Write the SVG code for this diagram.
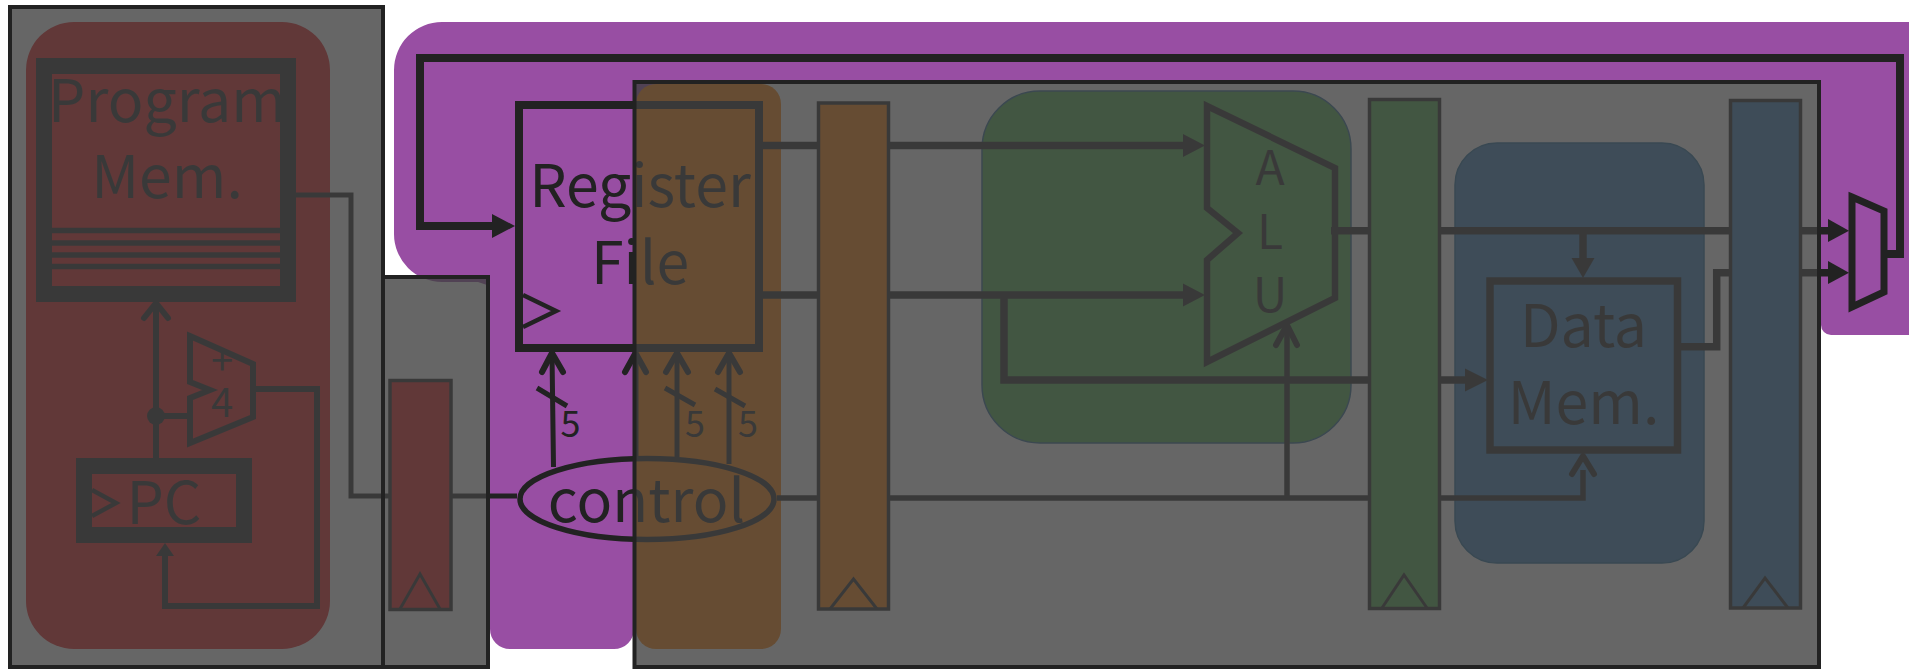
<svg xmlns="http://www.w3.org/2000/svg" width="1909" height="669" viewBox="0 0 1909 669">
<style>
.w{fill:none;stroke:#222;stroke-linejoin:miter}
.chev{fill:none;stroke:#222;stroke-width:6;stroke-linecap:round;stroke-linejoin:round}
.head{fill:#222;stroke:none}
.b{fill:none;stroke:#222}
.reg{stroke:#222;stroke-width:3.5}
.tri{fill:none;stroke:#222;stroke-width:3}
.t{font-family:"Noto Sans CJK SC","Noto Sans",sans-serif;font-size:59px;fill:#222;text-anchor:middle}
.s{font-size:40px}
.ov{fill:#404040;fill-opacity:.8;stroke:none}
.ovb{fill:none;stroke:#222;stroke-width:4}
</style>
<g id="stage-backgrounds">
<rect x="26" y="22" width="304" height="627" rx="48" fill="#e41a1c"/>
<path d="M442,22H1909V335H1831A10,10 0 0 1 1821,325V84H660V110H634V629A20,20 0 0 1 614,649H510A20,20 0 0 1 490,629V286L478,282H442A48,48 0 0 1 394,234V70A48,48 0 0 1 442,22Z" fill="#984ea3"/>
<rect x="636" y="84" width="145" height="565" rx="20" fill="#ff7f00"/>
<rect x="982" y="91" width="369" height="352" rx="58" fill="#4daf4a" stroke="#2a6a90" stroke-width="1.5"/>
<rect x="1455" y="143" width="249" height="420" rx="42" fill="#377eb8" stroke="#1f6a9a" stroke-width="1.5"/>
</g>
<g id="connectors">
<path class="w" stroke-width="8" d="M1885,254H1900V58H420V226H496"/>
<polygon class="head" points="515,226 492,214 492,238"/>
<path class="w" stroke-width="5" d="M296,195H351V496H517"/>
<path class="w" stroke-width="6" d="M156,458V304M156,416H190"/>
<circle cx="156" cy="416" r="9" fill="#222"/>
<path class="chev" d="M144,318L156,303L168,318"/>
<path class="w" stroke-width="6" d="M252,389H317V606H165V553"/>
<polygon class="head" points="165,543 156,556 174,556"/>
<path class="w" stroke-width="5" d="M553.500,467L552,354M636,460V354M677,457V354M729,464V354"/>
<path class="chev" d="M542,372L552,353L563,372M625,372L635.500,353L646,372M666,372L677,353L688,372M718,372L729,353L740,372"/>
<path class="w" stroke-width="5" d="M537,388L567,406M665,388L695,405M715,389L745,406"/>
<path class="w" stroke-width="5.500" d="M777,498H1583V470M1287,498V326"/>
<path class="chev" d="M1276,345L1287,325L1297,345M1572,474L1583,456L1594,474"/>
<path class="w" stroke-width="7.500" d="M759,145.500H1185M759,295H1185M1004,295V380H1468M1331,230.700H1830M1583,230.700V260M1678,346.700H1716.700V272.700H1830"/>
<polygon class="head" points="1205,145.500 1183,134 1183,157"/>
<polygon class="head" points="1205,295 1183,283.500 1183,306.500"/>
<polygon class="head" points="1488,380 1465,368.500 1465,391.500"/>
<polygon class="head" points="1583,278 1571.500,258 1594.500,258"/>
<polygon class="head" points="1849,230.700 1828,219 1828,242"/>
<polygon class="head" points="1849,272.700 1828,261 1828,284"/>
</g>
<g id="program-mem">
<rect class="b" x="44" y="66" width="244" height="228" stroke-width="16"/>
<path class="w" stroke-width="5.500" d="M52,230.500H280M52,243H280M52,255H280M52,266.500H280"/>
<text class="t" x="167" y="122">Program</text>
<text class="t" x="167" y="198">Mem.</text>
</g>
<g id="pc">
<rect class="b" x="84" y="466" width="160" height="69" stroke-width="16"/>
<path class="w" stroke-width="4.500" d="M92,490L116,503L92,516"/>
<text class="t" x="164" y="524">PC</text>
</g>
<g id="adder">
<polygon class="b" stroke-width="6" points="190,336 253,364 253,417 190,443 190,398 210,390 190,382"/>
<text class="t s" x="222" y="375">+</text>
<text class="t s" x="222" y="417">4</text>
</g>
<g id="reg-if"><rect class="reg" x="390" y="380.500" width="61" height="229" fill="#e41a1c"/><path class="tri" d="M400,609L420,574L440,609"/></g>
<g id="register-file">
<rect class="b" x="519" y="105" width="240" height="243" stroke-width="8"/>
<path class="w" stroke-width="4.500" d="M523,295L556,311L523,327"/>
<text class="t" x="640" y="207">Register</text>
<text class="t" x="640" y="284">File</text>
</g>
<g id="control">
<ellipse class="b" cx="647" cy="499" rx="127" ry="40.500" stroke-width="5.500"/>
<text class="t" x="646.500" y="522">control</text>
<text class="t" style="font-size:36px" x="570.500" y="437">5</text>
<text class="t" style="font-size:36px" x="695" y="437">5</text>
<text class="t" style="font-size:36px" x="748" y="437">5</text>
</g>
<g id="reg-id"><rect class="reg" x="818.500" y="103" width="70" height="506" fill="#ff7f00"/><path class="tri" d="M830,609L853.500,579L877,609"/></g>
<g id="alu">
<polygon class="b" stroke-width="6.500" points="1207,106 1335,168 1335,298 1207,362 1207,260 1238,233 1207,208"/>
<text class="t" style="font-size:48px" x="1270" y="185">A</text>
<text class="t" style="font-size:48px" x="1270" y="249">L</text>
<text class="t" style="font-size:48px" x="1270" y="312">U</text>
</g>
<g id="reg-ex"><rect class="reg" x="1369.500" y="99.500" width="70" height="509" fill="#4daf4a"/><path class="tri" d="M1382,608L1404,575L1427,608"/></g>
<g id="data-mem">
<rect class="b" x="1490" y="281" width="187.500" height="169" stroke-width="7.500"/>
<text class="t" x="1583.500" y="347">Data</text>
<text class="t" x="1583.500" y="424">Mem.</text>
</g>
<g id="reg-mem"><rect class="reg" x="1730.500" y="100.500" width="70" height="507.500" fill="#377eb8"/><path class="tri" d="M1743,608L1765,578L1788,608"/></g>
<g id="overlays">
<rect class="ov" x="10" y="7" width="373" height="660"/>
<rect class="ov" x="383" y="277" width="105" height="390"/>
<rect class="ov" x="634.500" y="82" width="1184.500" height="585"/>
<rect class="ovb" x="10" y="7" width="373" height="660"/>
<rect class="ovb" x="383" y="277" width="105" height="390"/>
<rect class="ovb" x="634.500" y="82" width="1184.500" height="585"/>
</g>
<g id="write-mux">
<polygon class="b" stroke-width="7" points="1852,197 1884,211 1884,292 1852,307"/>
</g>
</svg>
